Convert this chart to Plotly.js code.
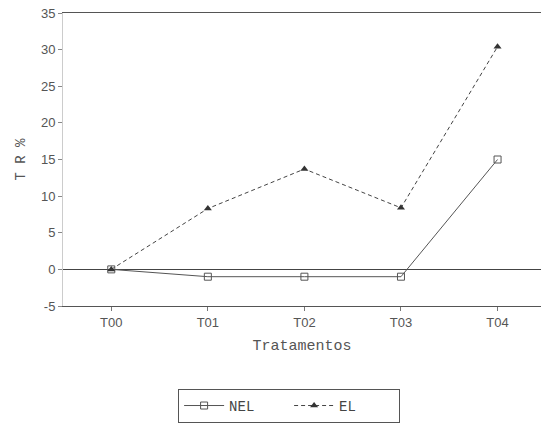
<!DOCTYPE html>
<html><head><meta charset="utf-8">
<script src="https://cdn.plot.ly/plotly-3.0.1.min.js"></script>
<style>html,body{margin:0;padding:0;background:#fff}#c{width:541px;height:429px}</style>
</head><body><div id="c"></div>
<script>
const categories = ["T00", "T01", "T02", "T03", "T04"];
const nelValues = [0, -1, -1, -1, 15];
const elValues = [0, 8.3, 13.7, 8.4, 30.4];
const yTicks = [-5, 0, 5, 10, 15, 20, 25, 30, 35];

const traces = [
  {x: categories, y: nelValues, name: "NEL", type: "scatter", mode: "lines+markers",
   line: {color: "#555", width: 1},
   marker: {symbol: "square-open", size: 7, color: "#555", line: {width: 1}}},
  {x: categories, y: elValues, name: "EL", type: "scatter", mode: "lines+markers",
   line: {color: "#444", width: 1, dash: "4px,3px"},
   marker: {symbol: "triangle-up", size: 7, color: "#333"}}
];

const layout = {
  width: 541, height: 429,
  margin: {l: 63, r: 0, t: 13, b: 123},
  paper_bgcolor: "#fff", plot_bgcolor: "#fff",
  showlegend: true,
  legend: {orientation: "h", x: 0.473, xanchor: "center", y: -0.283, yanchor: "top",
    bordercolor: "#555", borderwidth: 1, bgcolor: "#fff",
    font: {family: "Courier New, Liberation Mono, monospace", size: 14, color: "#444"},
    itemwidth: 40, entrywidth: 55},
  xaxis: {type: "category", range: [-0.5, 4.45], showgrid: false, zeroline: false,
    showline: true, mirror: true, linecolor: "#555", linewidth: 1,
    ticks: "outside", ticklen: 4, tickcolor: "#777",
    tickfont: {family: "Liberation Sans, Arial, sans-serif", size: 13, color: "#555"},
    title: {text: "Tratamentos", standoff: 10,
      font: {family: "Courier New, Liberation Mono, monospace", size: 15, color: "#555"}}},
  yaxis: {range: [-5, 35], tickvals: yTicks, ticktext: yTicks.map(String), showgrid: false,
    zeroline: true, zerolinecolor: "#444", zerolinewidth: 1.5,
    showline: true, linecolor: "#ccc", linewidth: 1,
    ticks: "outside", ticklen: 4, tickcolor: "#888",
    tickfont: {family: "Liberation Sans, Arial, sans-serif", size: 13, color: "#555"},
    title: {text: "T R %", standoff: 12,
      font: {family: "Courier New, Liberation Mono, monospace", size: 14, color: "#555"}}}
};

Plotly.newPlot("c", traces, layout, {displayModeBar: false, staticPlot: true});
</script></body></html>
